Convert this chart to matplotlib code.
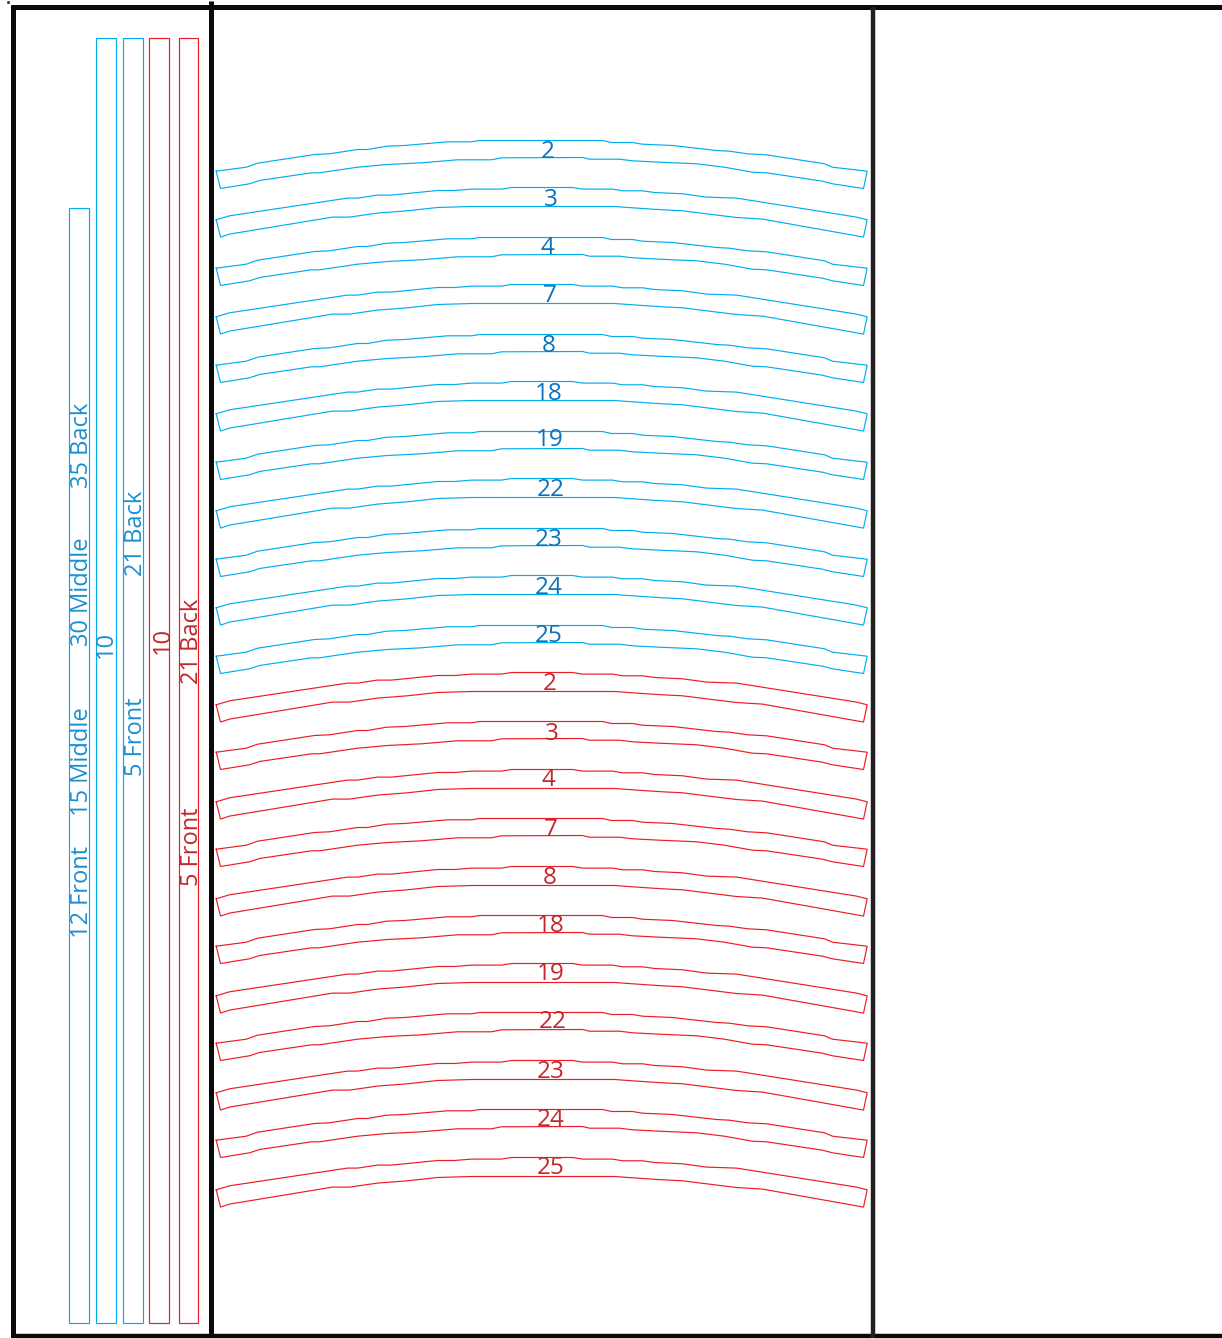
# plot.py
# Cutting layout: curved strips with number labels, long side strips and frame lines.

import matplotlib
matplotlib.use('Agg')
import matplotlib.pyplot as plt
from matplotlib.patches import Rectangle

plt.rcParams['font.family'] = ['Open Sans', 'DejaVu Sans']

# --- Data (pixel units) ---
# Two strip outlines, as (x, y below the top of the arc)
perfil_a_x = [216.7, 246.7, 258, 315, 330, 358, 368, 387, 405, 448, 472, 480, 603, 612, 633, 643, 673,
              717, 730, 748, 767, 825, 833, 867.7, 864, 833, 823, 767, 753, 725, 697, 660, 633, 620,
              590, 583, 502, 492, 458, 422, 388, 358, 320, 312, 260, 250, 221]
perfil_a_y = [30.7, 26.7, 22.7, 14, 13.3, 9, 9, 5.7, 5, 1.3, 1.3, 0, 0, 2, 2, 3.7, 5,
              10, 10.7, 13.3, 14.3, 23.3, 26.7, 30.7, 48, 43.3, 40.7, 32.3, 31.7, 26.7, 23.3, 21.7, 20.3, 18.7,
              18.7, 17, 17.3, 19.3, 19.3, 22.3, 24, 26.7, 32.3, 32.3, 40, 43.3, 48]
perfil_b_x = [216.7, 230, 348, 358, 378, 392, 438, 455, 472, 502, 512, 573, 583, 613, 623, 643, 655, 683,
              707, 737, 857, 867.7, 864, 853, 763, 737, 715, 683, 663, 652, 633, 615, 472, 438, 408,
              378, 350, 333, 230, 221]
perfil_b_y = [32.3, 28.3, 10.6, 10.6, 7.6, 7.6, 3, 3, 1.6, 1.6, 0, 0, 1.6, 1.6, 3.3, 3.3, 5, 6.3,
              9.6, 10.6, 29.6, 32.3, 49.6, 47.6, 31.6, 30, 27.3, 23.3, 22.3, 21.6, 20.3, 19, 19, 20, 23.3,
              25.6, 29.6, 29.6, 46.6, 49.6]

rotulos = ['2', '3', '4', '7', '8', '18', '19', '22', '23', '24', '25']

azul_topo = [141, 188, 238, 285, 335, 382, 432, 479, 529, 576, 626]
azul_perfil = ['a', 'b', 'a', 'b', 'a', 'b', 'a', 'b', 'a', 'b', 'a']
azul_rot_x = [548.5, 551, 547.5, 550, 549, 549.5, 550.5, 551.5, 549.5, 549.5, 549.5]
azul_rot_y = [153, 201, 249, 297, 346, 394, 441, 491, 540, 588, 637]

verm_topo = [673, 722, 770, 819, 867, 916, 964, 1013, 1061, 1110, 1158]
verm_perfil = ['b', 'a', 'b', 'a', 'b', 'a', 'b', 'a', 'b', 'a', 'b']
verm_rot_x = [550, 552, 549, 551, 550, 551, 551, 553, 551, 551, 551]
verm_rot_y = [685, 734, 781, 830, 878, 926, 975, 1023, 1072, 1120, 1169]

# Long side strips: left, right, top, bottom
lado_esq = [69.5, 96.5, 123, 149.5, 179]
lado_dir = [89, 116, 143, 169.5, 198.5]
lado_topo = [208.5, 38.5, 38.5, 38.5, 38.5]
lado_base = [1323, 1323, 1323, 1323, 1323]
lado_cor = ['azul', 'azul', 'azul', 'verm', 'verm']

# Side texts: text, x centre, lower end, colour
lado_txt = ['12 Front', '15 Middle', '30 Middle', '35 Back', '10', '5 Front', '21 Back', '10', '21 Back', '5 Front']
lado_txt_x = [82, 82, 82, 82, 106, 136, 136, 163, 193, 193]
lado_txt_y = [938.5, 816.5, 646.5, 488.5, 658, 776.5, 576.5, 654, 685, 886]
lado_txt_cor = ['azul', 'azul', 'azul', 'azul', 'azul', 'azul', 'azul', 'verm', 'verm', 'verm']

cores_linha = {'azul': '#00aeef', 'verm': '#ed1c24'}
cores_txt = {'azul': '#1a8fd1', 'verm': '#c1272d'}
perfis = {'a': (perfil_a_x, perfil_a_y), 'b': (perfil_b_x, perfil_b_y)}

# --- Figure ---
fig = plt.figure(figsize=(12.22, 13.38), dpi=100)
ax = fig.add_axes([0, 0, 1, 1])
ax.set_xlim(0.5, 1222.5)
ax.set_ylim(1338.5, 0.5)
ax.axis('off')


def desenha_tiras(topos, tipos, cor):
    for topo, tipo in zip(topos, tipos):
        xs, ys = perfis[tipo]
        xs = list(xs) + [xs[0]]
        ys = [topo + v for v in ys] + [topo + ys[0]]
        ax.plot(xs, ys, color=cor, linewidth=0.85, solid_joinstyle='miter', zorder=2)


desenha_tiras(azul_topo, azul_perfil, cores_linha['azul'])
desenha_tiras(verm_topo, verm_perfil, cores_linha['verm'])

# Numbers on the strips
for txt, x, y in zip(rotulos, azul_rot_x, azul_rot_y):
    ax.text(x, y, txt, color='#0b72b9', fontsize=17.5, ha='center', va='center', zorder=3)
for txt, x, y in zip(rotulos, verm_rot_x, verm_rot_y):
    ax.text(x, y, txt, color=cores_txt['verm'], fontsize=17.5, ha='center', va='center', zorder=3)

# Side strips
for esq, dir_, topo, base, cor in zip(lado_esq, lado_dir, lado_topo, lado_base, lado_cor):
    ax.add_patch(Rectangle((esq, topo), dir_ - esq, base - topo, fill=False,
                           edgecolor=cores_linha[cor], linewidth=0.85, zorder=2))

for txt, x, y, cor in zip(lado_txt, lado_txt_x, lado_txt_y, lado_txt_cor):
    ax.text(x, y, txt, color=cores_txt[cor], fontsize=17, rotation=90,
            ha='center', va='bottom', zorder=3)

# Frame lines
ax.plot([13.5, 13.5], [5, 1338], color='#0a0a0a', linewidth=3.6, solid_capstyle='butt', zorder=4)
ax.plot([11.5, 1222.5], [7.5, 7.5], color='#0a0a0a', linewidth=3.6, solid_capstyle='butt', zorder=4)
ax.plot([11.5, 1222.5], [1336, 1336], color='#0a0a0a', linewidth=3.2, solid_capstyle='butt', zorder=4)
ax.plot([211, 211], [1, 1338.5], color='#0a0a0a', linewidth=3.6, solid_capstyle='butt', zorder=4)
ax.plot([873, 873], [7, 1338.5], color='#231f20', linewidth=3.2, solid_capstyle='butt', zorder=4)
ax.plot([8], [2], marker='s', markersize=1, color='#333333', zorder=4)

fig.savefig('out.png', dpi=100)
